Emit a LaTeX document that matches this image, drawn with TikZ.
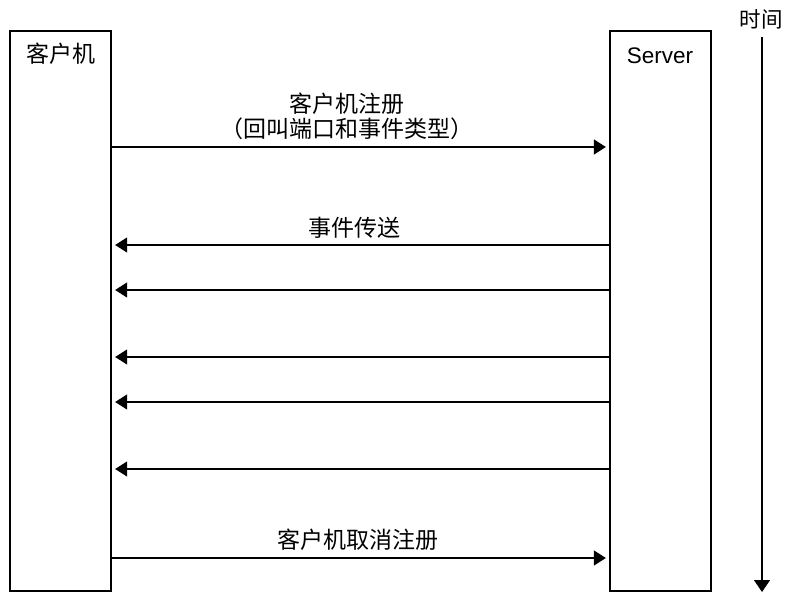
\documentclass[tikz,border=0pt]{standalone}
\usepackage{fontspec}
\setmainfont{Liberation Sans}
\newfontfamily\cjk{Noto Sans CJK SC}
\usetikzlibrary{arrows.meta}
\begin{document}
\begin{tikzpicture}[x=1pt,y=-1pt,
  lanebox/.style={draw,line width=1.3pt,minimum width=101pt,minimum height=560pt,inner sep=0pt},
  msgarrow/.style={line width=1.3pt,-{Triangle[length=12pt,width=15pt]},shorten >=3.5pt},
  msglabel/.style={font=\cjk\fontsize{23}{24.5}\selectfont,align=center,inner sep=0pt},
  titletext/.style={inner sep=0pt}]
\useasboundingbox (0,0) rectangle (791,593);
\node[lanebox] (client) at (60.5,311) {};
\node[lanebox] (server) at (660.5,311) {};
\node[titletext,font=\cjk\fontsize{23}{23}\selectfont] (cl) at (60.5,54) {客户机};
\node[titletext,font=\fontsize{22.5}{22.5}\selectfont] (sv) at (660,56) {Server};
% time axis
\node[titletext,font=\cjk\fontsize{21.5}{21.5}\selectfont] (tl) at (761,19) {时间};
\coordinate (t0) at (762,37);
\coordinate (t1) at (762,592);
\draw[line width=1.3pt,-{Triangle[length=12pt,width=16pt]}] (t0) -- (t1);
% messages
\draw[msgarrow] (client.east |- 0,147) -- (server.west |- 0,147);
\node[msglabel] (l1) at (347,116.5) {客户机注册\\（回叫端口和事件类型）};
\draw[msgarrow] (server.west |- 0,245) -- (client.east |- 0,245);
\node[msglabel] (l2) at (354,228) {事件传送};
\draw[msgarrow] (server.west |- 0,290) -- (client.east |- 0,290);
\draw[msgarrow] (server.west |- 0,357) -- (client.east |- 0,357);
\draw[msgarrow] (server.west |- 0,402) -- (client.east |- 0,402);
\draw[msgarrow] (server.west |- 0,469) -- (client.east |- 0,469);
\draw[msgarrow] (client.east |- 0,558) -- (server.west |- 0,558);
\node[msglabel] (l3) at (358,540) {客户机取消注册};
\end{tikzpicture}
\end{document}
